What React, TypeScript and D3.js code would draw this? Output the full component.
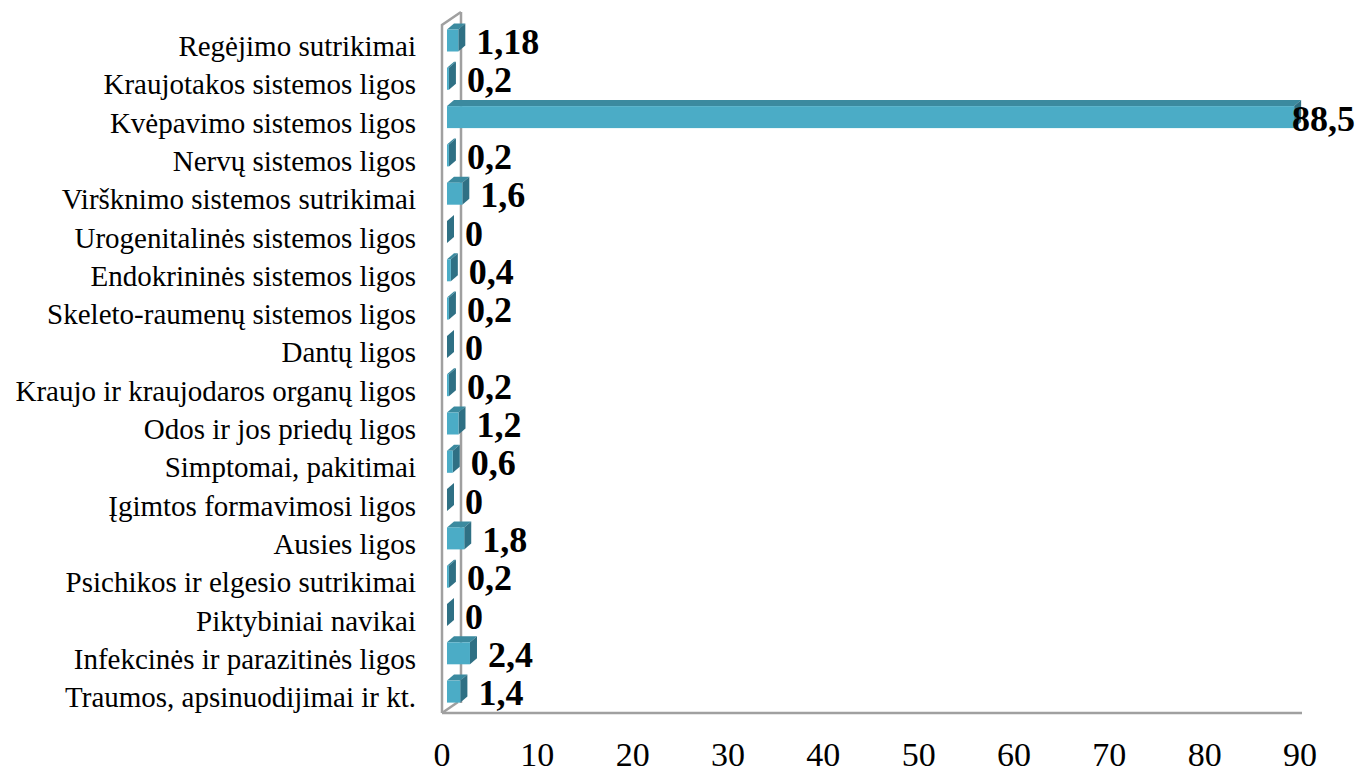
import React from "react";
import * as d3 from "d3";

const categories: string[] = [
  "Regėjimo sutrikimai",
  "Kraujotakos sistemos ligos",
  "Kvėpavimo sistemos ligos",
  "Nervų sistemos ligos",
  "Viršknimo sistemos sutrikimai",
  "Urogenitalinės sistemos ligos",
  "Endokrininės sistemos ligos",
  "Skeleto-raumenų sistemos ligos",
  "Dantų ligos",
  "Kraujo ir kraujodaros organų ligos",
  "Odos ir jos priedų ligos",
  "Simptomai, pakitimai",
  "Įgimtos formavimosi ligos",
  "Ausies ligos",
  "Psichikos ir elgesio sutrikimai",
  "Piktybiniai navikai",
  "Infekcinės ir parazitinės ligos",
  "Traumos, apsinuodijimai ir kt.",
];

const values: number[] = [1.18, 0.2, 88.5, 0.2, 1.6, 0, 0.4, 0.2, 0, 0.2, 1.2, 0.6, 0, 1.8, 0.2, 0, 2.4, 1.4];
const valueLabels: string[] = ["1,18", "0,2", "88,5", "0,2", "1,6", "0", "0,4", "0,2", "0", "0,2", "1,2", "0,6", "0", "1,8", "0,2", "0", "2,4", "1,4"];
const ticks: number[] = [0, 10, 20, 30, 40, 50, 60, 70, 80, 90];

const W = 1359;
const H = 773;
const FONT = "'Liberation Serif', 'Times New Roman', serif";

export default function App() {
  const xAxis = d3.scaleLinear().domain([0, 90]).range([442, 1300]);
  const xBar = d3.scaleLinear().domain([0, 90]).range([447, 1308.5]);
  const y = d3.scaleBand<string>().domain(categories).range([27.35, 27.35 + 18 * 38.3]).padding(0);

  const dx = 7;
  const dy = -6;
  const barH = 22;

  const wallX0 = 442;
  const wallX1 = 461;
  const floorY = 713;
  const wallTop = 25;

  return (
    <svg width={W} height={H} style={{ position: "absolute", left: 0, top: 0, background: "#fff" }}>
      {/* wall and floor */}
      <g fill="none" stroke="#a0a0a0" strokeWidth={2.5}>
        <line x1={wallX1} y1={wallTop - 13} x2={wallX1} y2={floorY - 10} />
        <path d={`M${wallX0},${floorY} L${wallX0},${wallTop} L${wallX1},${wallTop - 13}`} />
        <line x1={wallX0} y1={floorY} x2={wallX1 - 3} y2={floorY - 11} />
        <line x1={wallX0} y1={floorY} x2={xAxis(90) + 2} y2={floorY} />
      </g>
      {/* bars */}
      {categories.map((c, i) => {
        const cy = (y(c) as number) + y.bandwidth() / 2 - 6;
        const x0 = xBar(0);
        const x1 = xBar(values[i]);
        const top = cy - barH / 2;
        const bot = cy + barH / 2;
        return (
          <g key={c}>
            <path d={`M${x0},${top} L${x0 + dx},${top + dy} L${x1 + dx},${top + dy} L${x1},${top} Z`} fill="#3b8a9f" />
            <path d={`M${x1},${top} L${x1 + dx},${top + dy} L${x1 + dx},${bot + dy} L${x1},${bot} Z`} fill="#2f7084" />
            <rect x={x0} y={top} width={Math.max(0, x1 - x0)} height={barH} fill="#4bacc6" />
          </g>
        );
      })}
      {/* category labels */}
      {categories.map((c) => (
        <text key={c} x={416} y={(y(c) as number) + y.bandwidth() / 2 + 9.5} textAnchor="end" fontFamily={FONT} fontSize={29} fill="#000">
          {c}
        </text>
      ))}
      {/* value labels */}
      {categories.map((c, i) => {
        const cy = (y(c) as number) + y.bandwidth() / 2 - 6;
        const lx = xBar(values[i]) + 18;
        const clamp = lx > 1290;
        return (
          <text
            key={c}
            x={clamp ? 1355 : lx}
            y={cy + 13.5}
            textAnchor={clamp ? "end" : "start"}
            fontFamily={FONT}
            fontSize={36}
            fontWeight="bold"
            fill="#000"
          >
            {valueLabels[i]}
          </text>
        );
      })}
      {/* x tick labels */}
      {ticks.map((t) => (
        <text key={t} x={xAxis(t)} y={766} textAnchor="middle" fontFamily={FONT} fontSize={34} fill="#000">
          {t}
        </text>
      ))}
    </svg>
  );
}
